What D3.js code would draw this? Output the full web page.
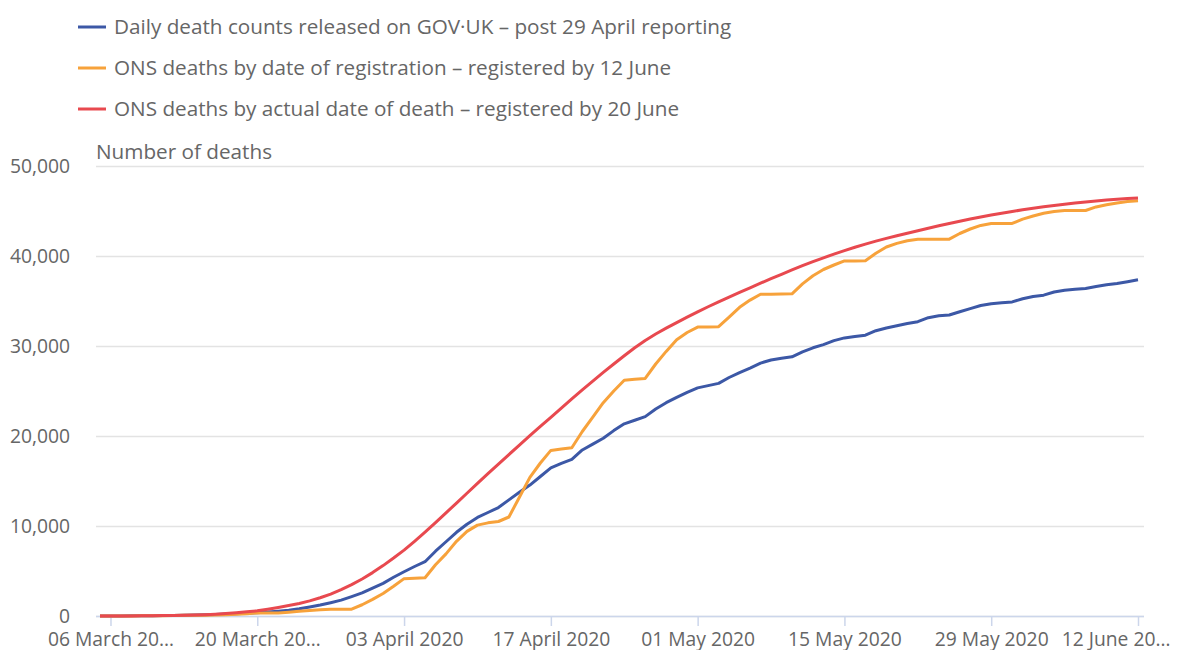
<!DOCTYPE html>
<html>
<head>
<meta charset="utf-8">
<script src="https://cdn.jsdelivr.net/npm/d3@7"></script>
<style>
  body { margin: 0; background: #fff; }
  text { font-family: "Open Sans", sans-serif; }
</style>
</head>
<body>
<script>
var w = 1182;
var h = 650;
var svg = d3.select("body").append("svg").attr("width", w).attr("height", h);

// one value per day, 05 March 2020 to 12 June 2020
var startDate = new Date(2020, 2, 5);
var seriesNames = [
    "Daily death counts released on GOV\u00b7UK \u2013 post 29 April reporting",
    "ONS deaths by date of registration \u2013 registered by 12 June",
    "ONS deaths by actual date of death \u2013 registered by 20 June"
];
var seriesColors = ["#3c58a6", "#f7a23b", "#e8494f"];

var govuk = [5, 8, 12, 18, 25, 35, 50, 65, 85, 110,
    140, 175, 215, 260, 310, 370, 450, 540, 650, 800,
    1000, 1220, 1480, 1760, 2150, 2560, 3100, 3630, 4300, 4920,
    5500, 6030, 7200, 8250, 9300, 10200, 10950, 11500, 12050, 12900,
    13750, 14550, 15500, 16450, 16950, 17400, 18450, 19100, 19750, 20600,
    21350, 21750, 22150, 23000, 23700, 24300, 24850, 25350, 25600, 25850,
    26500, 27050, 27550, 28100, 28450, 28650, 28800, 29350, 29800, 30150,
    30600, 30900, 31050, 31200, 31700, 32000, 32250, 32500, 32700, 33150,
    33350, 33450, 33800, 34150, 34500, 34700, 34800, 34900, 35250, 35500,
    35650, 36000, 36200, 36300, 36400, 36600, 36800, 36950, 37150, 37350];

var onsRegistration = [5, 10, 10, 10, 15, 25, 40, 55, 75, 75,
    75, 110, 150, 200, 260, 330, 330, 330, 420, 520,
    620, 700, 760, 760, 760, 1250, 1850, 2500, 3300, 4150,
    4200, 4250, 5700, 6900, 8300, 9400, 10100, 10350, 10500, 11000,
    13200, 15400, 17000, 18400, 18550, 18700, 20500, 22100, 23700, 25000,
    26200, 26300, 26400, 28000, 29400, 30700, 31500, 32100, 32100, 32150,
    33200, 34300, 35100, 35750, 35750, 35780, 35800, 36900, 37800, 38500,
    39000, 39450, 39450, 39480, 40300, 41000, 41400, 41700, 41850, 41850,
    41850, 41870, 42500, 43000, 43400, 43600, 43600, 43620, 44100, 44450,
    44750, 44950, 45050, 45050, 45060, 45450, 45700, 45900, 46050, 46150];

var onsDeathDate = [1, 3, 6, 11, 18, 28, 42, 60, 84, 114,
    150, 200, 270, 360, 460, 580, 760, 950, 1160, 1390,
    1680, 2030, 2440, 2930, 3490, 4110, 4820, 5600, 6440, 7320,
    8300, 9320, 10380, 11460, 12550, 13640, 14730, 15810, 16880, 17940,
    18990, 20030, 21060, 22080, 23100, 24120, 25120, 26100, 27060, 28000,
    28920, 29800, 30620, 31330, 31980, 32600, 33200, 33790, 34360, 34910,
    35440, 35960, 36470, 36980, 37480, 37970, 38450, 38920, 39370, 39800,
    40210, 40600, 40970, 41320, 41650, 41960, 42250, 42530, 42810, 43090,
    43360, 43620, 43870, 44110, 44340, 44560, 44760, 44950, 45130, 45300,
    45460, 45610, 45750, 45880, 46000, 46110, 46210, 46300, 46380, 46450];

var tickDates = [new Date(2020, 2, 6), new Date(2020, 2, 20), new Date(2020, 3, 3), new Date(2020, 3, 17),
    new Date(2020, 4, 1), new Date(2020, 4, 15), new Date(2020, 4, 29), new Date(2020, 5, 12)];
var tickLabels = ["06 March 20\u2026", "20 March 20\u2026", "03 April 2020", "17 April 2020",
    "01 May 2020", "15 May 2020", "29 May 2020", "12 June 20\u2026"];
var yTicks = [0, 10000, 20000, 30000, 40000, 50000];

function dayOf(i) { return d3.timeDay.offset(startDate, i); }

var xS = d3.scaleTime().domain([startDate, new Date(2020, 5, 12)]).range([100, 1138]);
var yS = d3.scaleLinear().domain([0, 50000]).range([616, 166]);

// gridlines + y labels
var yA = d3.axisLeft(yS).tickValues(yTicks).tickSize(-1048).tickPadding(26)
    .tickFormat(d3.format(","));
var gy = svg.append("g").attr("transform", "translate(96,0)").call(yA);
gy.select(".domain").remove();
gy.selectAll(".tick line").attr("stroke", "#e3e3e3").attr("stroke-width", 1.5);
gy.selectAll(".tick text").attr("fill", "#666").attr("font-size", "19.3px")
    .attr("font-family", "Open Sans");

// x axis
var xA = d3.axisBottom(xS).tickValues(tickDates).tickSize(10).tickPadding(6)
    .tickFormat(function(d, i) { return tickLabels[i]; });
var gx = svg.append("g").attr("transform", "translate(0,616)").call(xA);
gx.select(".domain").attr("d", "M96,0.5H1144").attr("stroke", "#ccd6eb").attr("stroke-width", 1.5);
gx.selectAll(".tick line").attr("stroke", "#ccd6eb").attr("stroke-width", 1.5);
gx.selectAll(".tick text").attr("fill", "#666").attr("font-size", "19.3px")
    .attr("font-family", "Open Sans");
// last label is pulled inside the plot edge, as in the original
gx.selectAll(".tick text").filter(function(d, i) { return i === tickLabels.length - 1; })
    .attr("text-anchor", "end").attr("x", 32);

svg.append("text").text("Number of deaths")
    .attr("x", 96).attr("y", 159)
    .attr("font-size", "20.7px").attr("fill", "#666");

// lines
var line = d3.line()
    .x(function(d, i) { return xS(dayOf(i)); })
    .y(function(d) { return yS(d); });

var allSeries = [govuk, onsRegistration, onsDeathDate];
svg.selectAll("path.series").data(allSeries).enter().append("path")
    .attr("class", "series")
    .attr("d", line)
    .attr("fill", "none")
    .attr("stroke", function(d, i) { return seriesColors[i]; })
    .attr("stroke-width", 3)
    .attr("stroke-linejoin", "round");

// legend
var leg = svg.selectAll("g.leg").data(seriesNames).enter().append("g")
    .attr("class", "leg")
    .attr("transform", function(d, i) { return "translate(78," + (27 + i * 41) + ")"; });
leg.append("line").attr("x1", 0).attr("x2", 28).attr("y1", 0).attr("y2", 0)
    .attr("stroke", function(d, i) { return seriesColors[i]; })
    .attr("stroke-width", 3);
leg.append("text").text(function(d) { return d; })
    .attr("x", 36).attr("y", 0).attr("dy", "0.35em")
    .attr("font-size", "20.7px").attr("fill", "#666");
</script>
</body>
</html>
